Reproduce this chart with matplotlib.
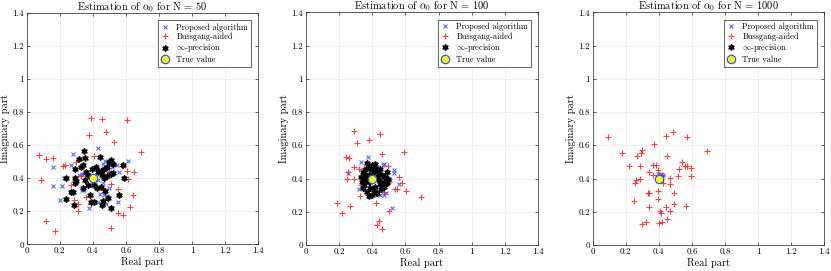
import numpy as np
import matplotlib.pyplot as plt
from matplotlib.ticker import FixedLocator, FormatStrFormatter

plt.rcParams["font.family"] = "serif"
plt.rcParams["font.serif"] = ["cmr10", "DejaVu Serif"]
plt.rcParams["mathtext.fontset"] = "cm"
plt.rcParams["axes.formatter.use_mathtext"] = True

# ---- N = 50 ----
prop_re_50 = [0.278, 0.433, 0.157, 0.268, 0.161, 0.211, 0.203, 0.228, 0.318, 0.336, 0.459, 0.471,
              0.610, 0.548, 0.560, 0.495, 0.554, 0.481, 0.379, 0.433, 0.332, 0.348, 0.399, 0.459,
              0.441, 0.483, 0.345, 0.500, 0.515, 0.430, 0.380, 0.470]
prop_im_50 = [0.546, 0.584, 0.465, 0.481, 0.350, 0.352, 0.266, 0.401, 0.419, 0.423, 0.485, 0.501,
              0.503, 0.477, 0.437, 0.338, 0.254, 0.242, 0.222, 0.256, 0.326, 0.328, 0.371, 0.373,
              0.306, 0.292, 0.425, 0.440, 0.470, 0.390, 0.350, 0.300]
buss_re_50 = [0.391, 0.453, 0.606, 0.479, 0.379, 0.528, 0.691, 0.077, 0.117, 0.161, 0.409, 0.217,
              0.230, 0.574, 0.604, 0.651, 0.614, 0.085, 0.507, 0.550, 0.641, 0.356, 0.288, 0.312,
              0.387, 0.308, 0.624, 0.550, 0.584, 0.509, 0.115, 0.173, 0.484, 0.360, 0.440, 0.500,
              0.330, 0.470, 0.270, 0.300]
buss_im_50 = [0.765, 0.755, 0.751, 0.681, 0.661, 0.620, 0.556, 0.542, 0.518, 0.524, 0.532, 0.475,
              0.477, 0.475, 0.445, 0.439, 0.393, 0.387, 0.363, 0.334, 0.296, 0.284, 0.270, 0.242,
              0.244, 0.201, 0.228, 0.187, 0.175, 0.101, 0.141, 0.081, 0.278, 0.440, 0.450, 0.440,
              0.410, 0.330, 0.360, 0.500]
inf_re_50 = [0.344, 0.318, 0.352, 0.443, 0.509, 0.500, 0.524, 0.580, 0.487, 0.470, 0.395, 0.360,
             0.292, 0.433, 0.450, 0.507, 0.487, 0.586, 0.294, 0.300, 0.292, 0.352, 0.370, 0.409,
             0.423, 0.447, 0.475, 0.372, 0.278, 0.265, 0.238, 0.288, 0.387, 0.405, 0.453, 0.460,
             0.509, 0.560, 0.490, 0.235, 0.330, 0.380, 0.340, 0.420, 0.470, 0.455, 0.520, 0.340]
inf_im_50 = [0.564, 0.518, 0.522, 0.530, 0.510, 0.500, 0.487, 0.480, 0.470, 0.455, 0.457, 0.440,
             0.453, 0.440, 0.445, 0.425, 0.413, 0.399, 0.401, 0.380, 0.373, 0.387, 0.420, 0.357,
             0.342, 0.346, 0.320, 0.360, 0.314, 0.318, 0.274, 0.236, 0.256, 0.258, 0.240, 0.262,
             0.222, 0.296, 0.282, 0.400, 0.470, 0.300, 0.480, 0.470, 0.400, 0.420, 0.430, 0.340]

# ---- N = 100 ----
prop_re_100 = [0.333, 0.377, 0.463, 0.470, 0.529, 0.529, 0.564, 0.519, 0.473, 0.483, 0.319, 0.257,
               0.350, 0.470, 0.510, 0.430, 0.360, 0.450]
prop_im_100 = [0.497, 0.529, 0.483, 0.490, 0.453, 0.433, 0.367, 0.221, 0.299, 0.315, 0.337, 0.435,
               0.440, 0.420, 0.390, 0.470, 0.330, 0.300]
buss_re_100 = [0.291, 0.447, 0.311, 0.383, 0.459, 0.590, 0.241, 0.261, 0.253, 0.247, 0.291, 0.319,
               0.351, 0.291, 0.497, 0.564, 0.578, 0.537, 0.551, 0.602, 0.694, 0.329, 0.367, 0.423,
               0.421, 0.191, 0.267, 0.221, 0.501, 0.427, 0.443, 0.457, 0.497, 0.330, 0.470, 0.360]
buss_im_100 = [0.688, 0.668, 0.616, 0.630, 0.546, 0.562, 0.531, 0.523, 0.441, 0.397, 0.467, 0.455,
               0.465, 0.397, 0.477, 0.411, 0.373, 0.337, 0.339, 0.325, 0.287, 0.297, 0.315, 0.305,
               0.253, 0.253, 0.237, 0.195, 0.207, 0.122, 0.146, 0.098, 0.375, 0.360, 0.320, 0.420]
inf_re_100 = [0.371, 0.417, 0.447, 0.487, 0.497, 0.491, 0.451, 0.427, 0.383, 0.347, 0.337, 0.343,
              0.360, 0.380, 0.400, 0.420, 0.440, 0.460, 0.470, 0.360, 0.350, 0.380, 0.410, 0.430,
              0.450, 0.470, 0.390, 0.410, 0.370, 0.430, 0.350, 0.400, 0.440, 0.420, 0.380, 0.460,
              0.330, 0.400, 0.480, 0.360]
inf_im_100 = [0.491, 0.487, 0.457, 0.437, 0.397, 0.371, 0.337, 0.311, 0.295, 0.341, 0.381, 0.441,
              0.460, 0.470, 0.480, 0.460, 0.430, 0.420, 0.380, 0.420, 0.400, 0.380, 0.440, 0.410,
              0.370, 0.350, 0.340, 0.320, 0.320, 0.450, 0.360, 0.450, 0.390, 0.350, 0.420, 0.360,
              0.410, 0.300, 0.410, 0.390]

# ---- N = 1000 ----
prop_re_1000 = [0.410, 0.420, 0.395, 0.415, 0.405, 0.425, 0.390, 0.412]
prop_im_1000 = [0.420, 0.410, 0.425, 0.430, 0.415, 0.420, 0.410, 0.400]
buss_re_1000 = [0.095, 0.488, 0.443, 0.572, 0.175, 0.691, 0.296, 0.266, 0.292, 0.373, 0.447, 0.222,
                0.284, 0.363, 0.383, 0.538, 0.556, 0.572, 0.592, 0.520, 0.596, 0.516, 0.469, 0.469,
                0.342, 0.367, 0.397, 0.419, 0.423, 0.288, 0.260, 0.254, 0.332, 0.340, 0.393, 0.492,
                0.397, 0.252, 0.342, 0.443, 0.490, 0.562, 0.467, 0.407, 0.413, 0.447, 0.417, 0.401,
                0.320, 0.300]
buss_im_1000 = [0.650, 0.678, 0.656, 0.650, 0.554, 0.566, 0.574, 0.534, 0.552, 0.608, 0.536, 0.473,
                0.477, 0.483, 0.483, 0.501, 0.473, 0.473, 0.461, 0.455, 0.413, 0.413, 0.403, 0.369,
                0.439, 0.421, 0.451, 0.421, 0.375, 0.395, 0.389, 0.371, 0.315, 0.311, 0.327, 0.311,
                0.279, 0.267, 0.229, 0.227, 0.247, 0.235, 0.207, 0.207, 0.195, 0.158, 0.138, 0.130,
                0.136, 0.124]
inf_re_1000 = [0.400, 0.405, 0.398, 0.402]
inf_im_1000 = [0.395, 0.390, 0.405, 0.400]

true_re = 0.4
true_im = 0.4

panels = [
    ("50", prop_re_50, prop_im_50, buss_re_50, buss_im_50, inf_re_50, inf_im_50, 26.7, 231.6, 12.7, 244.3),
    ("100", prop_re_100, prop_im_100, buss_re_100, buss_im_100, inf_re_100, inf_im_100, 305.7, 232.6, 12.3, 245.0),
    ("1000", prop_re_1000, prop_im_1000, buss_re_1000, buss_im_1000, inf_re_1000, inf_im_1000, 592.7, 231.6, 12.3, 245.0),
]

W, H = 831, 271
fig = plt.figure(figsize=(W / 100, H / 100), dpi=100)
hexagram = (6, 1, 0)
ticks = np.arange(0, 1.41, 0.2)

for n, pr, pi, br, bi, ir, ii, x0, w, top, bot in panels:
    ax = fig.add_axes([x0 / W, (H - bot) / H, w / W, (bot - top) / H])
    ax.plot(pr, pi, "x", color="#3355ff", ms=3, mew=0.8, label="Proposed algorithm", alpha=0.85)
    ax.plot(br, bi, "+", color="#ff2020", ms=5, mew=0.8, label="Bussgang-aided", alpha=0.85)
    ax.plot(ir, ii, ls="none", marker=hexagram, color="black", ms=4.5, mew=0.9,
            label=r"$\infty$-precision")
    ax.plot([true_re], [true_im], "o", mfc="#ffff00", mec="#3355ff", ms=6, mew=0.9,
            label="True value")
    ax.set_xlim(0, 1.4)
    ax.set_ylim(0, 1.4)
    ax.xaxis.set_major_locator(FixedLocator(ticks))
    ax.yaxis.set_major_locator(FixedLocator(ticks))
    ax.xaxis.set_major_formatter(FormatStrFormatter("%g"))
    ax.yaxis.set_major_formatter(FormatStrFormatter("%g"))
    ax.tick_params(direction="in", length=2.5, width=0.5, labelsize=6.5, pad=2,
                   top=True, right=True, color="#262626")
    ax.grid(True, color="#e6e6e6", linewidth=0.5)
    ax.set_axisbelow(True)
    for s in ax.spines.values():
        s.set_linewidth(0.5)
        s.set_color("#262626")
    ax.set_xlabel("Real part", fontsize=7.5, labelpad=1)
    ax.set_ylabel("Imaginary part", fontsize=7.5, labelpad=2)
    ax.set_title(r"Estimation of $\alpha_0$ for N = " + n, fontsize=7.5, pad=2)
    leg = ax.legend(loc="upper right", fontsize=6, frameon=True, fancybox=False,
                    framealpha=1, edgecolor="#262626", borderpad=0.35, labelspacing=0.15,
                    handlelength=1.0, handletextpad=0.8, borderaxespad=0.9)
    leg.get_frame().set_linewidth(0.5)

fig.savefig("out.png", dpi=100)
